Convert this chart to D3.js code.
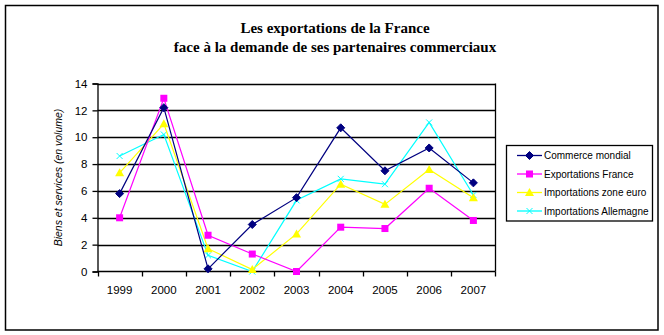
<!DOCTYPE html>
<html><head><meta charset="utf-8">
<script src="https://cdn.jsdelivr.net/npm/d3@7"></script>
<style>body{margin:0;background:#fff}svg{display:block}</style>
</head><body><svg id="c" width="664" height="335"></svg>
<script>
const years = ["1999","2000","2001","2002","2003","2004","2005","2006","2007"];
const commerceMondial = [5.8,12.2,0.2,3.5,5.5,10.7,7.5,9.2,6.6];
const exportationsFrance = [4.0,12.9,2.7,1.3,0.0,3.3,3.2,6.2,3.8];
const importationsZoneEuro = [7.35,11.0,1.7,0.15,2.8,6.5,5.0,7.6,5.5];
const importationsAllemagne = [8.6,10.2,1.2,0.0,5.3,6.9,6.5,11.1,5.7];
const yTicks = [0,2,4,6,8,10,12,14];
const seriesNames = ["Commerce mondial","Exportations France","Importations zone euro","Importations Allemagne"];

const series = [
  {name: seriesNames[0], values: commerceMondial, color: "#000080", marker: "diamond"},
  {name: seriesNames[1], values: exportationsFrance, color: "#FF00FF", marker: "square"},
  {name: seriesNames[2], values: importationsZoneEuro, color: "#FFFF00", marker: "triangle"},
  {name: seriesNames[3], values: importationsAllemagne, color: "#00FFFF", marker: "x"}
];

const svg = d3.select("#c");
svg.append("rect").attr("x",5.5).attr("y",5.5).attr("width",652.5).attr("height",324.5)
  .attr("fill","none").attr("stroke","#000").attr("stroke-width",1.5);

const title = svg.append("text").attr("x",335).attr("text-anchor","middle")
  .attr("font-family","Liberation Serif, Times New Roman, serif").attr("font-weight","bold")
  .attr("font-size",15).attr("fill","#000");
title.append("tspan").attr("x",335).attr("y",33).text("Les exportations de la France");
title.append("tspan").attr("x",335).attr("y",52).text("face à la demande de ses partenaires commerciaux");

const L=97.5, R=495.5, T=83.5, B=271.5;
const x = d3.scaleBand().domain(years).range([L,R]);
const y = d3.scaleLinear().domain([0,14]).range([B,T]);

svg.append("g").selectAll("line").data(yTicks.filter(d=>d>0)).join("line")
  .attr("x1",L).attr("x2",R).attr("y1",d=>Math.round(y(d))+0.5).attr("y2",d=>Math.round(y(d))+0.5)
  .attr("stroke","#000").attr("stroke-width",1.3);
svg.append("line").attr("x1",R).attr("x2",R).attr("y1",T).attr("y2",B).attr("stroke","#000").attr("stroke-width",1.3);

const yAxis = d3.axisLeft(y).tickValues(yTicks).tickSize(5).tickPadding(5);
const gy = svg.append("g").attr("transform",`translate(${L},0)`).call(yAxis);
gy.selectAll("text").attr("font-family","Liberation Sans, Arial, sans-serif").attr("font-size",11.5).attr("fill","#000");
gy.selectAll("line,path").attr("stroke","#000").attr("stroke-width",1.3);

const xAxis = d3.axisBottom(x).tickSize(0).tickPadding(14);
const gx = svg.append("g").attr("transform",`translate(0,${B})`).call(xAxis);
gx.select("path").attr("d",`M${L},0H${R}`).attr("stroke","#000").attr("stroke-width",1.3);
gx.selectAll("text").attr("font-family","Liberation Sans, Arial, sans-serif").attr("font-size",11.5).attr("fill","#000");
svg.append("g").selectAll("line").data(years).join("line")
  .attr("x1",d=>Math.round(x(d))+0.5).attr("x2",d=>Math.round(x(d))+0.5)
  .attr("y1",B).attr("y2",B+5).attr("stroke","#000").attr("stroke-width",1.3);
svg.append("line").attr("x1",R).attr("x2",R).attr("y1",B).attr("y2",B+5).attr("stroke","#000").attr("stroke-width",1.3);

svg.append("text").attr("transform",`translate(62,${(T+B)/2}) rotate(-90)`)
  .attr("text-anchor","middle").attr("font-family","Liberation Sans, Arial, sans-serif")
  .attr("font-style","italic").attr("font-size",10.5).attr("fill","#000")
  .text("Biens et services (en volume)");

function drawMarker(g, type, color){
  if(type==="diamond") g.append("path").attr("d","M0,-4L4,0L0,4L-4,0Z").attr("fill",color).attr("stroke",color);
  else if(type==="square") g.append("rect").attr("x",-3.5).attr("y",-3.5).attr("width",7).attr("height",7).attr("fill",color);
  else if(type==="triangle") g.append("path").attr("d","M0,-4.5L4.5,3.5L-4.5,3.5Z").attr("fill",color);
  else g.append("path").attr("d","M-3,-3L3,3M-3,3L3,-3").attr("stroke",color).attr("stroke-width",1);
}

const cx = d => x(d) + x.bandwidth()/2;
const line = d3.line().x((d,i)=>cx(years[i])).y(d=>y(d));
series.slice().reverse().forEach(s=>{
  svg.append("path").attr("d",line(s.values)).attr("fill","none").attr("stroke",s.color).attr("stroke-width",1.2);
  s.values.forEach((v,i)=>{
    const g = svg.append("g").attr("transform",`translate(${cx(years[i])},${y(v)})`);
    drawMarker(g,s.marker,s.color);
  });
});

svg.append("rect").attr("x",506.5).attr("y",145.5).attr("width",146).attr("height",75.5)
  .attr("fill","#fff").attr("stroke","#000").attr("stroke-width",1.3);
const rowsY = [155.5,174,192.5,211];
series.forEach((s,i)=>{
  svg.append("line").attr("x1",517).attr("x2",542).attr("y1",rowsY[i]).attr("y2",rowsY[i]).attr("stroke",s.color).attr("stroke-width",1.3);
  const g = svg.append("g").attr("transform",`translate(529.5,${rowsY[i]})`);
  drawMarker(g,s.marker,s.color);
  svg.append("text").attr("x",544).attr("y",rowsY[i]+3.5).attr("font-family","Liberation Sans, Arial, sans-serif")
    .attr("font-size",10).attr("fill","#000").text(s.name);
});
</script></body></html>
